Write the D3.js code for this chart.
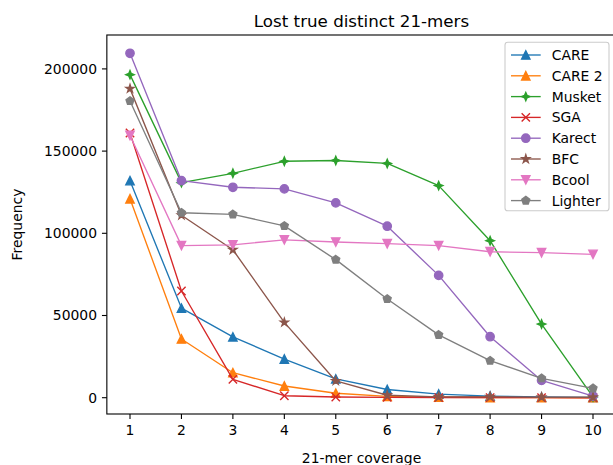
<!DOCTYPE html>
<html>
<head>
<meta charset="utf-8">
<script src="https://cdn.jsdelivr.net/npm/d3@7"></script>
<style>
html, body { margin: 0; padding: 0; background: #fff; }
svg { display: block; font-family: "DejaVu Sans", sans-serif; }
</style>
</head>
<body>
<svg id="chart" width="613" height="465"></svg>
<script>
const coverage = [1, 2, 3, 4, 5, 6, 7, 8, 9, 10];
const seriesNames = ["CARE", "CARE 2", "Musket", "SGA", "Karect", "BFC", "Bcool", "Lighter"];
const careVals    = [132000, 54500, 37000, 23500, 11400, 5000, 2200, 1000, 400, 200];
const care2Vals   = [121000, 35700, 15200, 7100, 2700, 800, 300, 100, 50, 0];
const musketVals  = [196500, 130800, 136500, 143800, 144300, 142500, 129000, 95500, 44800, 500];
const sgaVals     = [161000, 64900, 11200, 1200, 400, 200, 100, 100, 50, 0];
const karectVals  = [209500, 132000, 128000, 127000, 118500, 104300, 74400, 37100, 10500, 1000];
const bfcVals     = [188000, 111000, 90000, 45800, 10200, 1500, 500, 600, 300, 300];
const bcoolVals   = [159500, 92500, 93000, 96000, 94700, 93700, 92500, 88800, 88200, 87200];
const lighterVals = [180500, 112500, 111500, 104500, 84000, 60000, 38200, 22500, 11800, 5700];
const yTicks = [0, 50000, 100000, 150000, 200000];
const xTicks = [1, 2, 3, 4, 5, 6, 7, 8, 9, 10];
const colors = ["#1f77b4", "#ff7f0e", "#2ca02c", "#d62728", "#9467bd", "#8c564b", "#e377c2", "#7f7f7f"];
const markers = ["^", "^", "P", "x", "o", "*", "v", "p"];
const allVals = [careVals, care2Vals, musketVals, sgaVals, karectVals, bfcVals, bcoolVals, lighterVals];

const svg = d3.select("#chart");
const L = 106.85, R = 616.15, T = 35, B = 414;
const x = d3.scaleLinear().domain([0.55, 10.45]).range([L, R]);
const y = d3.scaleLinear().domain([-9915, 220620]).range([B, T]);
const MS = 8.33, MEW = 1.39, LW = 1.35;

function star(n, h, ratio) {
  const pts = [];
  for (let i = 0; i < 2 * n; i++) {
    const r = i % 2 === 0 ? h : h * ratio;
    const a = -Math.PI / 2 + i * Math.PI / n;
    pts.push([r * Math.cos(a), r * Math.sin(a)]);
  }
  return "M" + pts.map(p => p.join(",")).join("L") + "Z";
}

function markerPath(m, s) {
  const h = s / 2;
  if (m === "^") return `M0,${-h}L${-h},${h}L${h},${h}Z`;
  if (m === "v") return `M0,${h}L${-h},${-h}L${h},${-h}Z`;
  if (m === "o") return d3.symbol(d3.symbolCircle, Math.PI * h * h)();
  if (m === "x") return `M${-h},${-h}L${h},${h}M${-h},${h}L${h},${-h}`;
  if (m === "*") return star(5, h, 0.381966);
  if (m === "p") {
    const pts = [];
    for (let i = 0; i < 5; i++) {
      const a = -Math.PI / 2 + i * 2 * Math.PI / 5;
      pts.push([h * Math.cos(a), h * Math.sin(a)]);
    }
    return "M" + pts.map(p => p.join(",")).join("L") + "Z";
  }
  if (m === "P") return star(4, h, 0.42);
}

function drawMarker(g, m, c, cx, cy) {
  const p = g.append("path").attr("d", markerPath(m, MS)).attr("transform", `translate(${cx},${cy})`);
  if (m === "x") p.attr("fill", "none").attr("stroke", c).attr("stroke-width", MEW);
  else p.attr("fill", c).attr("stroke", c).attr("stroke-width", MEW).attr("stroke-linejoin", "miter");
}

const plot = svg.append("g");
const line = d3.line().x((d, i) => x(coverage[i])).y(d => y(d));
allVals.forEach((vals, si) => {
  const g = plot.append("g");
  g.append("path").attr("d", line(vals)).attr("fill", "none")
    .attr("stroke", colors[si]).attr("stroke-width", LW).attr("stroke-linejoin", "round");
  vals.forEach((v, i) => drawMarker(g, markers[si], colors[si], x(coverage[i]), y(v)));
});

// spines
const ax = svg.append("g").attr("stroke", "#000").attr("stroke-width", 1.1).attr("fill", "none");
ax.append("rect").attr("x", L).attr("y", T).attr("width", R - L).attr("height", B - T);

// ticks
const tickG = svg.append("g").attr("font-size", "13.9px").attr("fill", "#000");
xTicks.forEach(t => {
  tickG.append("line").attr("x1", x(t)).attr("x2", x(t)).attr("y1", B).attr("y2", B + 4.9)
    .attr("stroke", "#000").attr("stroke-width", 1.1);
  tickG.append("text").attr("x", x(t)).attr("y", 434.7).attr("text-anchor", "middle").text(t);
});
yTicks.forEach(t => {
  tickG.append("line").attr("x1", L - 4.9).attr("x2", L).attr("y1", y(t)).attr("y2", y(t))
    .attr("stroke", "#000").attr("stroke-width", 1.1);
  tickG.append("text").attr("x", L - 9.8).attr("y", y(t) + 5).attr("text-anchor", "end").text(t);
});

// labels
svg.append("text").attr("x", (L + R) / 2).attr("y", 26.5).attr("text-anchor", "middle")
  .attr("font-size", "16.7px").text("Lost true distinct 21-mers");
svg.append("text").attr("x", (L + R) / 2).attr("y", 462.5).attr("text-anchor", "middle")
  .attr("font-size", "13.9px").text("21-mer coverage");
svg.append("text").attr("transform", `translate(22,${(T + B) / 2}) rotate(-90)`).attr("text-anchor", "middle")
  .attr("font-size", "13.9px").text("Frequency");

// legend
const lg = svg.append("g");
lg.append("rect").attr("x", 505).attr("y", 42.3).attr("width", 104).attr("height", 168.5)
  .attr("rx", 2.8).attr("fill", "#fff").attr("fill-opacity", 0.8)
  .attr("stroke", "#cccccc").attr("stroke-width", 1.1);
seriesNames.forEach((name, i) => {
  const cy = 55 + i * 20.8;
  lg.append("line").attr("x1", 511).attr("x2", 540.7).attr("y1", cy).attr("y2", cy)
    .attr("stroke", colors[i]).attr("stroke-width", LW);
  drawMarker(lg, markers[i], colors[i], 525.8, cy);
  lg.append("text").attr("x", 551.7).attr("y", cy + 5).attr("font-size", "13.9px").text(name);
});
</script>
</body>
</html>
